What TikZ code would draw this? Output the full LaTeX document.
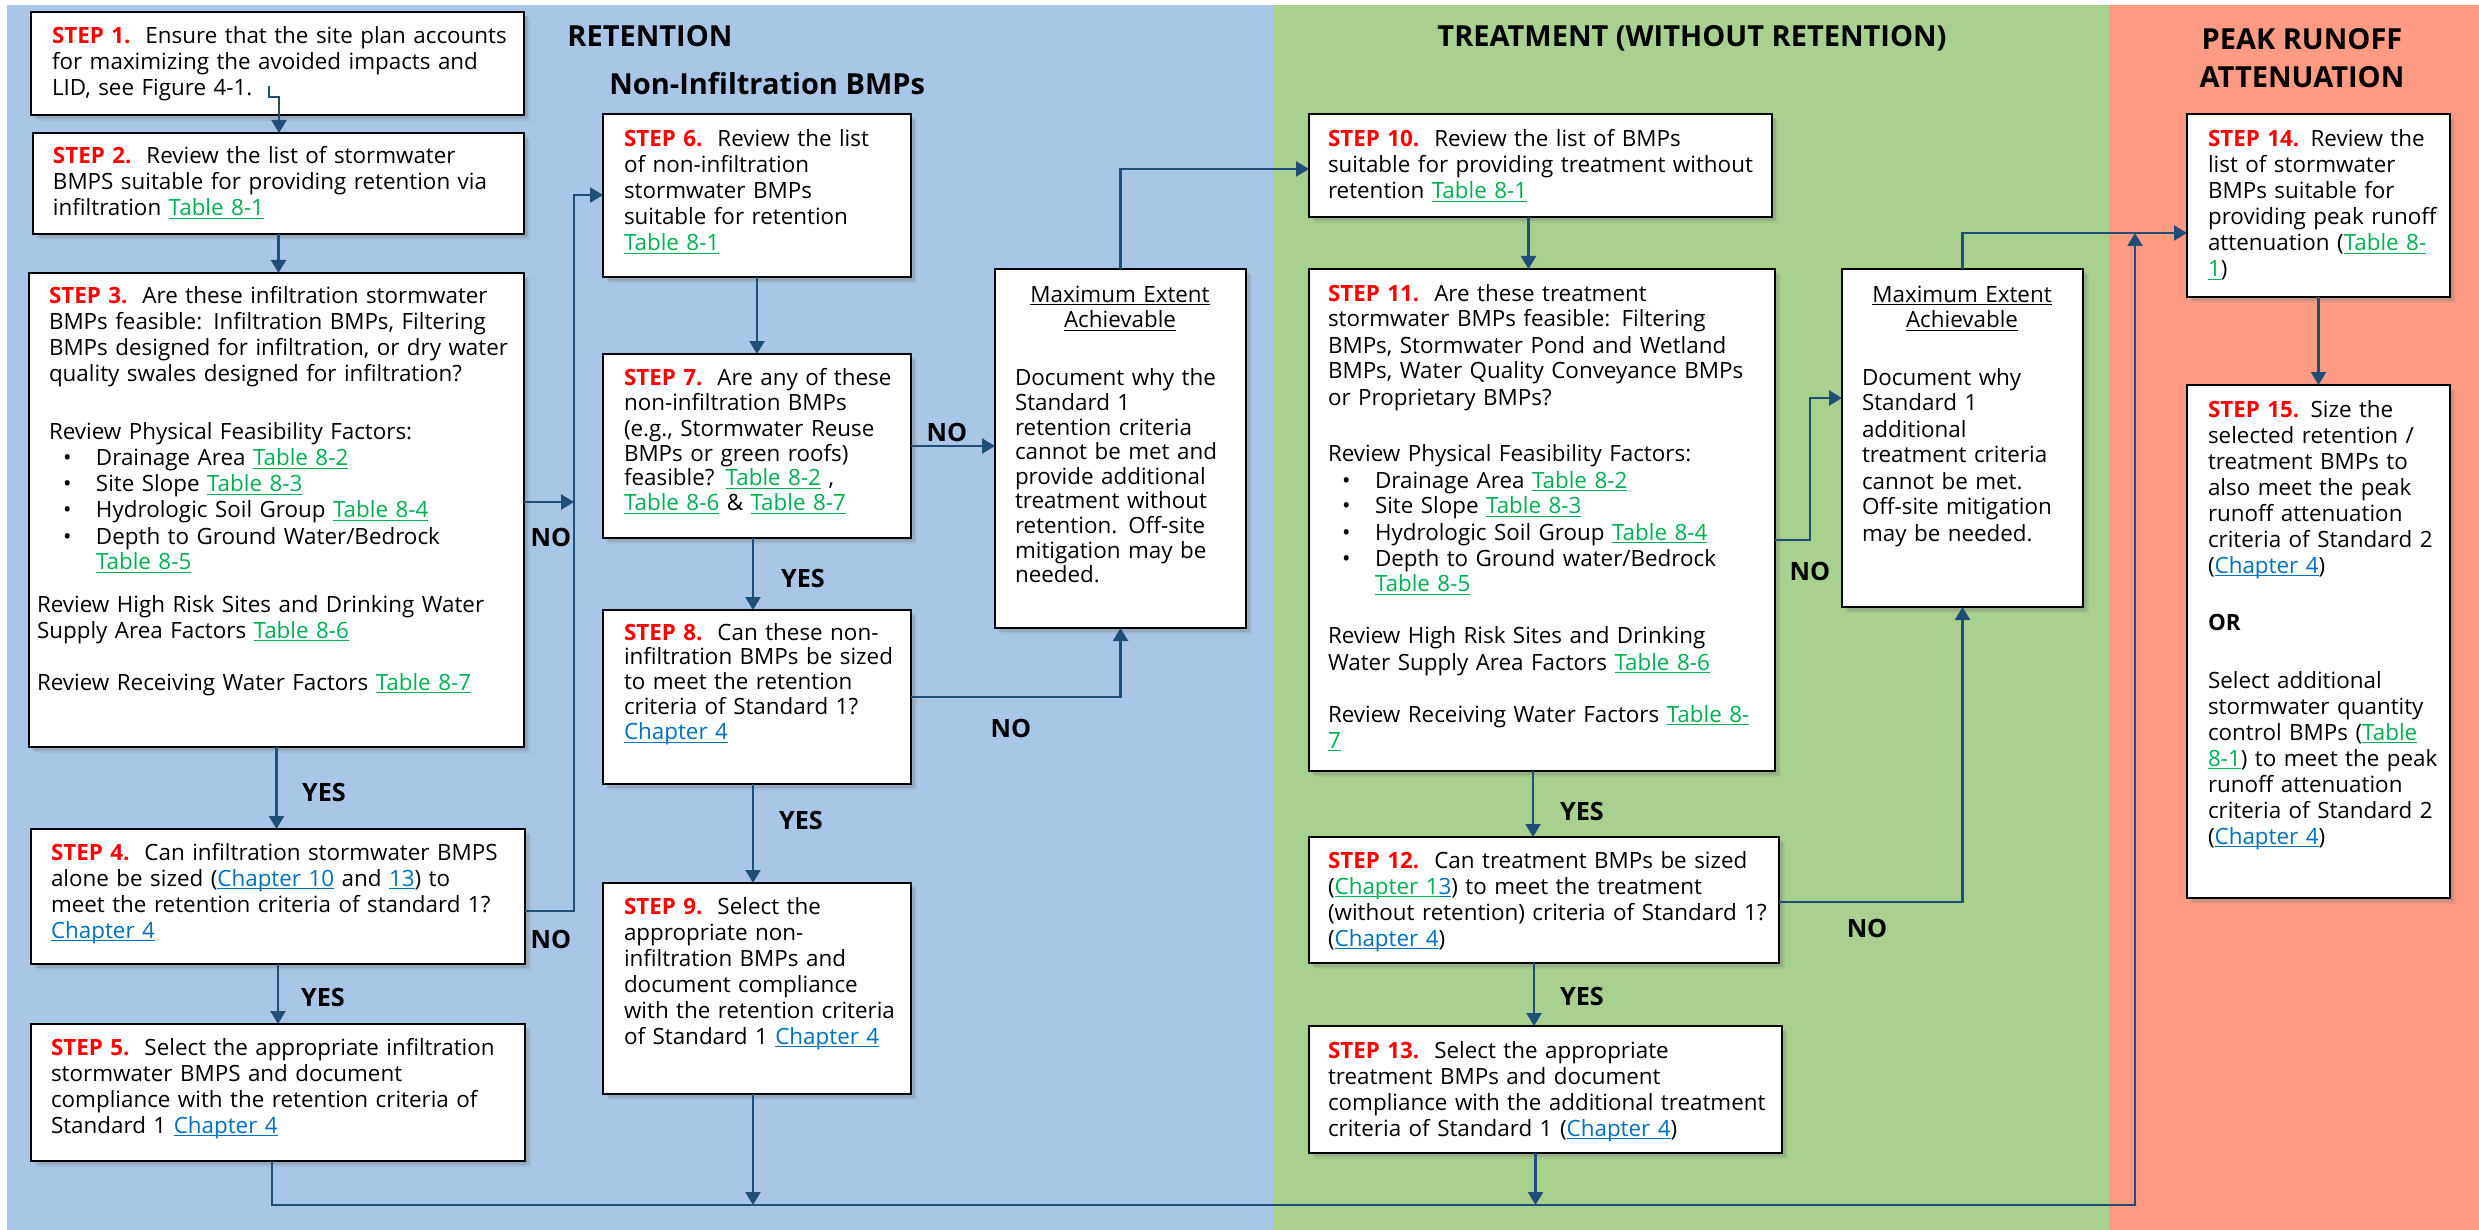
\documentclass[tikz,border=0pt]{standalone}
\usepackage{fontspec}
\setmainfont{Open Sans}
\usetikzlibrary{arrows.meta,shadows}
\definecolor{bgblue}{RGB}{169,198,231}
\definecolor{bggreen}{RGB}{169,208,142}
\definecolor{bgred}{RGB}{255,155,130}
\definecolor{stepred}{RGB}{255,0,0}
\definecolor{lkgreen}{RGB}{0,176,80}
\definecolor{lkblue}{RGB}{0,112,192}
\definecolor{arrowc}{RGB}{31,78,121}
\newcommand\myul[1]{\leavevmode\setbox0\hbox{#1}\rlap{\rule[-1.7pt]{\wd0}{0.55pt}}\box0}
\newcommand\stp[1]{\textcolor{stepred}{\textbf{#1}}}
\newcommand\lkg[1]{\textcolor{lkgreen}{\myul{#1}}}
\newcommand\lkb[1]{\textcolor{lkblue}{\myul{#1}}}
\newcommand\bitem[1]{\hspace*{7pt}\makebox[16.5pt][l]{\textbullet}#1}
\newcommand\mkbox[5]{\node[box, minimum width={(#4-#2)*0.5pt}, minimum height={(#5-#3)*0.5pt}] (#1) at ({(#2+#4)/2},{(#3+#5)/2}) {};}
\tikzset{
  box/.style={draw=black, line width=0.9pt, fill=white, inner sep=0pt, outer sep=0pt,
    drop shadow={shadow xshift=3pt, shadow yshift=-3pt, opacity=0.15},
    drop shadow={shadow xshift=1.8pt, shadow yshift=-1.8pt, opacity=0.3}},
  txt/.style={anchor=base west, inner sep=0pt, outer sep=0pt, text width=260pt, align=left,
    font=\fontsize{11.2pt}{13pt}\selectfont},
  mttl/.style={anchor=base, inner sep=0pt, outer sep=0pt, text width=120pt, align=center,
    font=\fontsize{11.2pt}{13pt}\selectfont},
  ttl/.style={inner sep=0pt, font=\fontsize{14.5pt}{19pt}\selectfont\bfseries},
  lbl/.style={inner sep=0pt, font=\fontsize{12.6pt}{15pt}\selectfont\bfseries},
  arr/.style={draw=arrowc, line width=1.15pt, -{Triangle[length=6.5pt,width=7.5pt]}},
}
\begin{document}
\begin{tikzpicture}[x=0.5pt,y=-0.5pt]
\useasboundingbox (0,0) rectangle (2479,1230);
\fill[white] (0,0) rectangle (2479,1230);
\fill[bgblue] (7,5) rectangle (1273,1230);
\fill[bggreen] (1273,5) rectangle (2109,1230);
\fill[bgred] (2109,5) rectangle (2479,1230);

% titles
\node[ttl, anchor=base west] (tret) at (567,47) {RETENTION};
\node[ttl, anchor=base west] (tnon) at (609,95) {Non-Infiltration BMPs};
\node[ttl, anchor=base] (ttre) at (1692,47) {TREATMENT (WITHOUT RETENTION)};
\node[ttl, anchor=base] (tpeak1) at (2302,50) {PEAK RUNOFF};
\node[ttl, anchor=base] (tpeak2) at (2302,88) {ATTENUATION};

% boxes
\mkbox{s1}{31}{12}{524}{115}
\mkbox{s2}{33}{133}{524}{234}
\mkbox{s3}{29}{273}{524}{747}
\mkbox{s4}{31}{829}{525}{964}
\mkbox{s5}{31}{1024}{525}{1161}
\mkbox{s6}{603}{114}{911}{277}
\mkbox{s7}{603}{354}{911}{538}
\mkbox{s8}{603}{610}{911}{784}
\mkbox{s9}{603}{883}{911}{1094}
\mkbox{m1}{995}{269}{1246}{628}
\mkbox{s10}{1309}{114}{1772}{217}
\mkbox{s11}{1309}{269}{1775}{771}
\mkbox{m2}{1842}{269}{2083}{607}
\mkbox{s12}{1309}{837}{1779}{963}
\mkbox{s13}{1309}{1026}{1782}{1153}
\mkbox{s14}{2187}{114}{2450}{297}
\mkbox{s15}{2187}{385}{2450}{898}

% texts
\node[txt] (s1t) at (52,44) {\stp{STEP 1.}\ \ Ensure that the site plan accounts\\for maximizing the avoided impacts and\\LID, see Figure 4-1.};
\node[txt] (s2t) at (53,164) {\stp{STEP 2.}\ \ Review the list of stormwater\\BMPS suitable for providing retention via\\infiltration \lkg{Table 8-1}};
\node[txt] (s3t) at (49,304) {\stp{STEP 3.}\ \ Are these infiltration stormwater\\BMPs feasible: Infiltration BMPs, Filtering\\BMPs designed for infiltration, or dry water\\quality swales designed for infiltration?\\[16pt]Review Physical Feasibility Factors:\\\bitem{Drainage Area \lkg{Table 8-2}}\\\bitem{Site Slope \lkg{Table 8-3}}\\\bitem{Hydrologic Soil Group \lkg{Table 8-4}}\\\bitem{Depth to Ground Water/Bedrock}\\\hspace*{23.5pt}\lkg{Table 8-5}};
\node[txt] (s3u) at (37,612) {Review High Risk Sites and Drinking Water\\Supply Area Factors \lkg{Table 8-6}\\[13pt]Review Receiving Water Factors \lkg{Table 8-7}};
\node[txt] (s4t) at (51,860) {\stp{STEP 4.}\ \ Can infiltration stormwater BMPS\\alone be sized (\lkb{Chapter 10} and \lkb{13}) to\\meet the retention criteria of standard 1?\\\lkb{Chapter 4}};
\node[txt] (s5t) at (51,1055) {\stp{STEP 5.}\ \ Select the appropriate infiltration\\stormwater BMPS and document\\compliance with the retention criteria of\\Standard 1 \lkb{Chapter 4}};
\node[txt] (s6t) at (624,147) {\stp{STEP 6.}\ \ Review the list\\of non-infiltration\\stormwater BMPs\\suitable for retention\\\lkg{Table 8-1}};
\node[txt, font=\fontsize{11.2pt}{12.5pt}\selectfont] (s7t) at (624,386) {\stp{STEP 7.}\ \ Are any of these\\non-infiltration BMPs\\(e.g., Stormwater Reuse\\BMPs or green roofs)\\feasible? \lkg{Table 8-2} ,\\\lkg{Table 8-6} \& \lkg{Table 8-7}};
\node[txt, font=\fontsize{11.2pt}{12.4pt}\selectfont] (s8t) at (624,640) {\stp{STEP 8.}\ \ Can these non-\\infiltration BMPs be sized\\to meet the retention\\criteria of Standard 1?\\\lkb{Chapter 4}};
\node[txt] (s9t) at (624,914) {\stp{STEP 9.}\ \ Select the\\appropriate non-\\infiltration BMPs and\\document compliance\\with the retention criteria\\of Standard 1 \lkb{Chapter 4}};
\node[mttl] (m1h) at (1120,302) {\myul{Maximum Extent}\\\myul{Achievable}};
\node[txt, font=\fontsize{11.2pt}{12.3pt}\selectfont] (m1t) at (1015,386) {Document why the\\Standard 1\\retention criteria\\cannot be met and\\provide additional\\treatment without\\retention. Off-site\\mitigation may be\\needed.};
\node[txt] (s10t) at (1328,147) {\stp{STEP 10.}\ \ Review the list of BMPs\\suitable for providing treatment without\\retention \lkg{Table 8-1}};
\node[txt] (s11t) at (1328,301) {\stp{STEP 11.}\ \ Are these treatment\\stormwater BMPs feasible: Filtering\\BMPs, Stormwater Pond and Wetland\\BMPs, Water Quality Conveyance BMPs\\or Proprietary BMPs?\\[15.5pt]Review Physical Feasibility Factors:\\\bitem{Drainage Area \lkg{Table 8-2}}\\\bitem{Site Slope \lkg{Table 8-3}}\\\bitem{Hydrologic Soil Group \lkg{Table 8-4}}\\\bitem{Depth to Ground water/Bedrock}\\\hspace*{23.5pt}\lkg{Table 8-5}\\[13pt]Review High Risk Sites and Drinking\\Water Supply Area Factors \lkg{Table 8-6}\\[13pt]Review Receiving Water Factors \lkg{Table 8-}\\\lkg{7}};
\node[mttl] (m2h) at (1962,302) {\myul{Maximum Extent}\\\myul{Achievable}};
\node[txt] (m2t) at (1862,385) {Document why\\Standard 1\\additional\\treatment criteria\\cannot be met.\\Off-site mitigation\\may be needed.};
\node[txt] (s12t) at (1328,868) {\stp{STEP 12.}\ \ Can treatment BMPs be sized\\(\lkg{Chapter 1}\lkb{3}) to meet the treatment\\(without retention) criteria of Standard 1?\\(\lkb{Chapter 4})};
\node[txt] (s13t) at (1328,1058) {\stp{STEP 13.}\ \ Select the appropriate\\treatment BMPs and document\\compliance with the additional treatment\\criteria of Standard 1 (\lkb{Chapter 4})};
\node[txt] (s14t) at (2208,147) {\stp{STEP 14.} Review the\\list of stormwater\\BMPs suitable for\\providing peak runoff\\attenuation (\lkg{Table 8-}\\\lkg{1})};
\node[txt] (s15t) at (2208,417) {\stp{STEP 15.} Size the\\selected retention /\\treatment BMPs to\\also meet the peak\\runoff attenuation\\criteria of Standard 2\\(\lkb{Chapter 4})\\[15.5pt]\textbf{OR}\\[16pt]Select additional\\stormwater quantity\\control BMPs (\lkg{Table}\\\lkg{8-1}) to meet the peak\\runoff attenuation\\criteria of Standard 2\\(\lkb{Chapter 4})};

% labels
\node[lbl] (no3) at (551,537) {NO};
\node[lbl] (no4) at (551,939) {NO};
\node[lbl] (yes3) at (324,792) {YES};
\node[lbl] (yes4) at (323,997) {YES};
\node[lbl] (no7) at (947,432) {NO};
\node[lbl] (yes7) at (803,578) {YES};
\node[lbl] (no8) at (1011,728) {NO};
\node[lbl] (yes8) at (801,820) {YES};
\node[lbl] (no11) at (1810,571) {NO};
\node[lbl] (yes11) at (1582,811) {YES};
\node[lbl] (no12) at (1867,928) {NO};
\node[lbl] (yes12) at (1582,996) {YES};

% coordinates
\coordinate (p1) at (269,86);
\coordinate (p1b) at (279,97);
\coordinate (j3) at (574,502);
\coordinate (j4) at (574,911);
\coordinate (j6) at (574,195);
\coordinate (j11) at (1810,540);
\coordinate (j11b) at (1810,398);
\coordinate (j14) at (2135,233);
\coordinate (busR) at (2135,1205);

% connectors
\draw[arr] (p1) |- (p1b) -- (p1b |- s2.north);
\draw[arr] (s2.south) -- (s2.south |- s3.north);
\draw[arr] (s3.south) -- (s3.south |- s4.north);
\draw[arr] (s4.south) -- (s4.south |- s5.north);
\draw[arr] (s3.east |- j3) -- (j3);
\draw[arr] (s4.east |- j4) -- (j4) -- (j6) -- (s6.west |- j6);
\draw[arr] (s6.south) -- (s6.south |- s7.north);
\draw[arr] (s7.east) -- (m1.west |- s7.east);
\draw[arr] ([xshift=-2pt]s7.south) -- ([xshift=-2pt]s7.south |- s8.north);
\draw[arr] (s8.east) -| (m1.south);
\draw[arr] ([xshift=-2pt]s8.south) -- ([xshift=-2pt]s8.south |- s9.north);
\draw[arr] ([xshift=-2pt]s9.south) -- ([xshift=-2pt]s9.south |- busR);
\draw[arr] (m1.north) |- ([yshift=-1.75pt]s10.west);
\draw[arr] ([xshift=-6pt]s10.south) -- ([xshift=-6pt]s10.south |- s11.north);
\draw[arr] (s11.east |- j11) -- (j11) -- (j11b) -- (m2.west |- j11b);
\draw[arr] ([xshift=-4.5pt]s11.south) -- ([xshift=-4.5pt]s11.south |- s12.north);
\draw[arr] ([yshift=-1pt]s12.east) -| (m2.south);
\draw[arr] ([xshift=-5pt]s12.south) -- ([xshift=-5pt]s12.south |- s13.north);
\draw[arr] ([xshift=-5pt]s13.south) -- ([xshift=-5pt]s13.south |- busR);
\draw[arr] (m2.north) |- (j14) -- (s14.west |- j14);
\draw[arr] ([xshift=-3pt]s5.south) -- ([xshift=-3pt]s5.south |- busR) -- (busR) -- (j14);
\draw[arr] (s14.south) -- (s15.north);
\end{tikzpicture}
\end{document}
